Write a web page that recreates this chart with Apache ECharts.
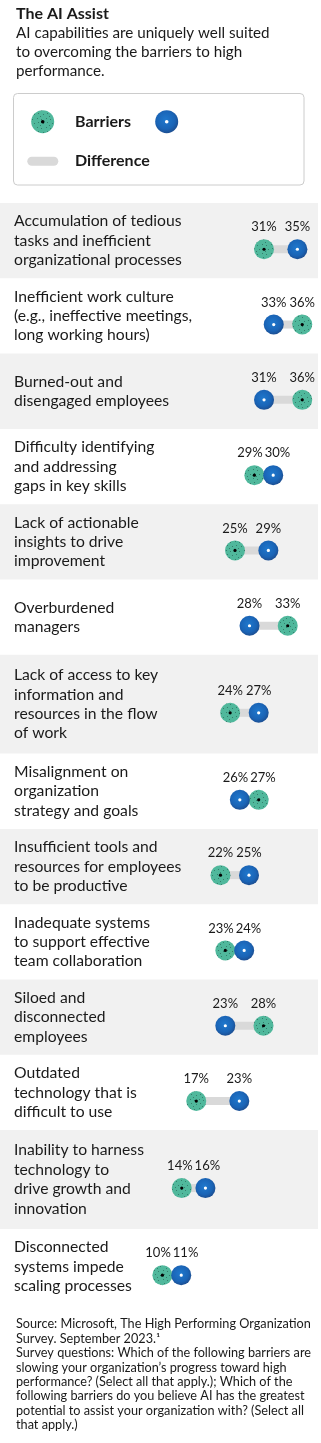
<!DOCTYPE html>
<html><head><meta charset="utf-8">
<script src="https://cdn.jsdelivr.net/npm/echarts@6/dist/echarts.min.js"></script>
<style>html,body{margin:0;padding:0;background:#fff}#c{width:321px;height:1443px}</style>
</head><body><div id="c"></div>
<script>
// ---------- DATA ----------
const categories = [
  'Accumulation of tedious\ntasks and inefficient\norganizational processes',
  'Inefficient work culture\n(e.g., ineffective meetings,\nlong working hours)',
  'Burned-out and\ndisengaged employees',
  'Difficulty identifying\nand addressing\ngaps in key skills',
  'Lack of actionable\ninsights to drive\nimprovement',
  'Overburdened\nmanagers',
  'Lack of access to key\ninformation and\nresources in the flow\nof work',
  'Misalignment on\norganization\nstrategy and goals',
  'Insufficient tools and\nresources for employees\nto be productive',
  'Inadequate systems\nto support effective\nteam collaboration',
  'Siloed and\ndisconnected\nemployees',
  'Outdated\ntechnology that is\ndifficult to use',
  'Inability to harness\ntechnology to\ndrive growth and\ninnovation',
  'Disconnected\nsystems impede\nscaling processes'
];
const barriers = [31, 36, 36, 29, 25, 33, 24, 27, 22, 23, 28, 17, 14, 10];
const aiAssist = [35, 33, 31, 30, 29, 28, 27, 26, 25, 24, 23, 23, 16, 11];
const seriesNames = ['Barriers', 'AI assist'];
const legendLabels = ['Barriers', '', 'Difference'];
const titleText = 'The AI Assist';
const subtitleText = 'AI capabilities are uniquely well suited\nto overcoming the barriers to high\nperformance.';
const footnoteLines = [
  'Source: Microsoft, The High Performing Organization',
  'Survey. September 2023.\u00b9',
  'Survey questions: Which of the following barriers are',
  'slowing your organization\u2019s progress toward high',
  'performance? (Select all that apply.); Which of the',
  'following barriers do you believe AI has the greatest',
  'potential to assist your organization with? (Select all',
  'that apply.)'
];
const xRange = [0, 40];

// ---------- STYLE / LAYOUT ----------
const FONT = 'Lato, "Open Sans", sans-serif';
const TXT = '#1a1a1a';
const TEAL = '#50b89c', SPECK = '#357f6c';
const GRID_LEFT = 121, GRID_WIDTH = 193.6;
const ROW_TOP0 = 203, ROW_H = 75.3, ROW_H4 = 98.8;
const DOT_R = 10, DOT_DY = 8.6, SEP = 7, LABEL_DY = 22, LABEL_MIN = 27.5;

function makeTealPattern() {
  const n = 9;
  const c = document.createElement('canvas');
  c.width = n; c.height = n;
  const g = c.getContext('2d');
  g.fillStyle = TEAL; g.fillRect(0, 0, n, n);
  g.fillStyle = SPECK;
  [[1, 1], [5, 2], [2, 5], [7, 6], [4, 8]].forEach(p => g.fillRect(p[0], p[1], 1, 1));
  return { image: c, repeat: 'repeat' };
}
const tealFill = makeTealPattern();
function blueFill() {
  return new echarts.graphic.RadialGradient(0.45, 0.42, 0.62, [
    { offset: 0, color: '#1f78cd' },
    { offset: 0.65, color: '#1a64b6' },
    { offset: 1, color: '#1d4a8a' }
  ]);
}

const tops = [], heights = [];
let yy = ROW_TOP0;
categories.forEach(c => {
  const h = c.split('\n').length > 3 ? ROW_H4 : ROW_H;
  tops.push(yy); heights.push(h); yy += h;
});

function renderItem(params, api) {
  const b = api.value(0), a = api.value(1);
  const pB = api.coord([b, 0]), pA = api.coord([a, 0]);
  const y = pB[1] + DOT_DY;
  const sign = b <= a ? 1 : -1;
  const xB = pB[0] - sign * SEP, xA = pA[0] + sign * SEP;
  const left = Math.min(xB, xA), right = Math.max(xB, xA), mid = (left + right) / 2;
  const lx = Math.min(left, mid - LABEL_MIN / 2), rx = Math.max(right, mid + LABEL_MIN / 2);
  const lbB = xB < xA ? lx : rx, lbA = xB < xA ? rx : lx;
  const lbl = (x, t) => ({
    type: 'text',
    style: { x: x, y: y - LABEL_DY, text: t, align: 'center', verticalAlign: 'middle',
      fontSize: 13, fontFamily: FONT, fill: TXT }
  });
  return {
    type: 'group',
    children: [
      { type: 'line', shape: { x1: left, y1: y, x2: right, y2: y }, style: { stroke: '#d9d9d9', lineWidth: 8 } },
      { type: 'circle', shape: { cx: xB, cy: y, r: DOT_R }, style: { fill: tealFill } },
      { type: 'circle', shape: { cx: xB, cy: y, r: 1.6 }, style: { fill: '#000' } },
      { type: 'circle', shape: { cx: xA, cy: y, r: DOT_R }, style: { fill: blueFill() } },
      { type: 'circle', shape: { cx: xA, cy: y, r: 1.6 }, style: { fill: '#fff' } },
      lbl(lbB, b + '%'),
      lbl(lbA, a + '%')
    ]
  };
}

const grids = [], xAxes = [], yAxes = [], series = [];
categories.forEach((cat, i) => {
  grids.push({ left: GRID_LEFT, width: GRID_WIDTH, top: tops[i], height: heights[i], outerBoundsMode: 'none', containLabel: false });
  xAxes.push({ type: 'value', gridIndex: i, min: xRange[0], max: xRange[1], show: false });
  yAxes.push({
    type: 'category', gridIndex: i, data: [cat],
    axisLine: { show: false }, axisTick: { show: false }, splitLine: { show: false },
    axisLabel: { align: 'left', margin: GRID_LEFT - 14, fontSize: 15.7, lineHeight: 19.4,
      fontFamily: FONT, color: TXT, verticalAlign: 'middle' }
  });
  series.push({
    type: 'custom', name: seriesNames[0] + ' / ' + seriesNames[1],
    xAxisIndex: i, yAxisIndex: i,
    data: [[barriers[i], aiAssist[i], 0]],
    encode: { x: [0, 1], y: 2 },
    renderItem: renderItem, silent: true, clip: false
  });
});

const graphics = [];
tops.forEach((t, i) => {
  if (i % 2 === 0) graphics.push({ type: 'rect', z: -10, silent: true,
    shape: { x: 0, y: t, width: 318, height: heights[i] }, style: { fill: '#f1f1f1' } });
});
// legend box
graphics.push(
  { type: 'rect', z: 5, shape: { x: 13.5, y: 93.5, width: 290.5, height: 91.5, r: 4 }, style: { fill: '#fff', stroke: '#cccccc', lineWidth: 1 } },
  { type: 'circle', z: 6, shape: { cx: 42.7, cy: 121.7, r: 11.5 }, style: { fill: tealFill } },
  { type: 'circle', z: 7, shape: { cx: 42.7, cy: 121.7, r: 1.8 }, style: { fill: '#000' } },
  { type: 'text', z: 6, style: { x: 75, y: 121.7, text: legendLabels[0], fontSize: 16, fontWeight: 'bold', fontFamily: FONT, fill: TXT, verticalAlign: 'middle' } },
  { type: 'circle', z: 6, shape: { cx: 166.7, cy: 121.7, r: 11.5 }, style: { fill: blueFill() } },
  { type: 'circle', z: 7, shape: { cx: 166.7, cy: 121.7, r: 1.8 }, style: { fill: '#fff' } },
  { type: 'rect', z: 6, shape: { x: 27.3, y: 156.7, width: 31, height: 9, r: 4.5 }, style: { fill: '#d9d9d9' } },
  { type: 'text', z: 6, style: { x: 75, y: 161, text: legendLabels[2], fontSize: 16, fontWeight: 'bold', fontFamily: FONT, fill: TXT, verticalAlign: 'middle' } }
);

const chart = echarts.init(document.getElementById('c'), null, { renderer: 'canvas' });
chart.setOption({
  animation: false,
  backgroundColor: '#fff',
  title: [
    { text: titleText, subtext: subtitleText, left: 16, top: 4.5, padding: 0, itemGap: 0,
      textStyle: { fontSize: 16, fontWeight: 'bold', lineHeight: 19, fontFamily: FONT, color: TXT },
      subtextStyle: { fontSize: 15.2, lineHeight: 19, fontFamily: FONT, color: TXT } },
    { text: footnoteLines.join('\n'), left: 16, top: 1317, padding: 0,
      textStyle: { fontSize: 12.7, lineHeight: 14.43, fontWeight: 'normal', fontFamily: FONT, color: TXT } }
  ],
  grid: grids, xAxis: xAxes, yAxis: yAxes, series: series,
  graphic: graphics
});
</script></body></html>
